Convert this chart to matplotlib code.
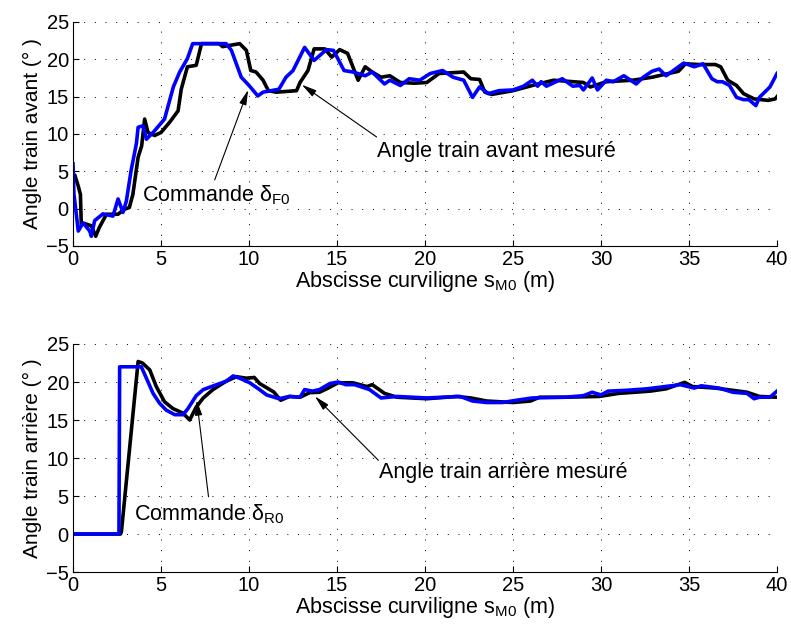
import matplotlib.pyplot as plt

plt.rcParams['font.family'] = ['Liberation Sans', 'DejaVu Sans']
plt.rcParams['mathtext.fontset'] = 'custom'
plt.rcParams['mathtext.rm'] = 'Liberation Sans'
plt.rcParams['mathtext.it'] = 'Liberation Sans:italic'

# --- top panel: front axle angle ---
front_cmd_s = [0, 0.05, 0.3, 0.57, 0.95, 1.04, 1.23, 1.7, 2.27, 2.56, 2.84, 3.03, 3.3, 3.6, 3.7,
               3.98, 4.17, 4.55, 5.2, 5.7, 6.06, 6.5, 6.8, 8.7, 9.0, 9.56, 10.0, 10.5, 10.8,
               11.7, 12.1, 12.5, 13.16, 13.7, 14.4, 14.8, 15.4, 15.9, 16.6, 17.0, 17.7, 18.0,
               18.6, 19.1, 19.7, 20.3, 21.0, 21.6, 22.2, 22.7, 23.1, 23.6, 24.2, 25.0, 25.6,
               26.1, 26.4, 26.6, 26.9, 27.8, 28.4, 28.8, 29.0, 29.5, 29.8, 30.3, 30.7, 31.3,
               32.0, 32.4, 32.9, 33.3, 33.7, 34.7, 35.3, 35.8, 36.3, 36.6, 36.9, 37.3, 37.7,
               38.1, 38.4, 38.8, 39.0, 39.6, 40.0]
front_cmd = [6.0, 2.0, -3.0, -1.9, -3.0, -3.7, -1.6, -0.7, -1.0, 1.3, -0.5, 1.0, 5.1, 8.7, 10.9,
             11.1, 9.3, 10.2, 12.0, 16.3, 18.3, 20.1, 22.1, 22.1, 21.2, 17.6, 16.5, 15.1, 15.6,
             16.0, 17.6, 18.5, 21.6, 19.85, 21.3, 21.2, 18.5, 18.3, 17.8, 18.3, 16.7, 17.2,
             16.5, 17.4, 17.2, 18.1, 18.5, 17.6, 17.2, 14.9, 16.3, 15.4, 15.8, 15.9, 16.4,
             17.2, 16.4, 17.0, 16.4, 17.4, 16.4, 16.5, 15.9, 17.5, 15.9, 17.2, 17.0, 17.8,
             16.7, 17.6, 18.4, 18.7, 17.8, 19.5, 19.0, 19.4, 17.4, 17.0, 17.0, 16.5, 14.9,
             14.6, 14.6, 13.8, 14.9, 16.3, 18.1]

front_meas_s = [0, 0.1, 0.3, 0.42, 0.47, 0.66, 1.04, 1.29, 1.5, 1.9, 2.56, 2.9, 3.2, 3.4, 3.7,
                3.9, 4.07, 4.26, 4.64, 5.0, 5.5, 5.97, 6.15, 6.5, 7.0, 7.3, 8.3, 8.5, 9.47,
                9.85, 10.1, 10.4, 10.8, 11.1, 11.55, 12.7, 12.9, 13.35, 13.7, 14.3, 14.7,
                15.15, 15.6, 15.9, 16.2, 16.6, 17.0, 17.5, 18.0, 18.6, 19.4, 20.1, 20.8, 22.2,
                22.6, 23.1, 23.4, 23.8, 25.0, 26.1, 27.3, 29.0, 29.4, 30.3, 31.8, 32.9, 34.4,
                34.8, 35.6, 36.5, 36.8, 37.2, 37.7, 38.1, 38.7, 39.5, 39.9, 40.0]
front_meas = [4.0, 4.5, 3.0, 1.9, -2.1, -2.0, -2.3, -3.7, -2.5, -0.75, -0.75, -0.1, 0.15, 1.9,
              6.9, 8.4, 12.0, 10.2, 9.8, 10.2, 11.6, 13.1, 16.0, 19.0, 19.2, 22.1, 22.1, 21.7,
              22.1, 21.2, 18.5, 18.3, 17.2, 15.8, 15.6, 15.8, 16.9, 18.5, 21.4, 21.4, 20.3,
              21.3, 20.8, 19.0, 17.2, 19.0, 18.3, 17.6, 17.8, 16.9, 16.8, 16.9, 18.1, 18.3,
              17.4, 17.3, 15.6, 15.3, 15.8, 16.5, 17.2, 16.9, 16.3, 17.0, 17.2, 17.6, 18.4,
              19.4, 19.3, 19.3, 19.0, 17.2, 16.5, 15.4, 14.7, 14.5, 14.7, 15.0]

# --- bottom panel: rear axle angle ---
rear_cmd_s = [0, 2.61, 2.65, 3.88, 4.17, 4.55, 4.92, 5.3, 5.78, 6.25, 6.53, 7.0, 7.4, 8.1, 8.7,
              9.1, 9.47, 10.04, 10.6, 11.0, 11.7, 12.3, 12.9, 13.16, 13.6, 14.0, 14.6, 15.06,
              15.5, 16.0, 16.85, 17.5, 18.4, 20.1, 22.0, 22.7, 23.5, 24.4, 25.2, 26.1, 28.0,
              29.0, 29.5, 30.0, 30.4, 31.4, 32.6, 33.3, 34.5, 35.3, 35.7, 36.7, 37.5, 38.3,
              38.7, 39.0, 39.6, 40.0]
rear_cmd = [0, 0, 22.0, 22.0, 20.5, 18.5, 17.2, 16.3, 15.7, 15.7, 16.5, 18.2, 19.0, 19.6, 20.1,
            20.8, 20.5, 19.9, 19.0, 18.3, 17.8, 18.1, 18.0, 19.0, 18.8, 19.0, 19.8, 20.0,
            19.65, 19.65, 19.0, 17.9, 18.1, 17.9, 18.1, 17.5, 17.3, 17.3, 17.6, 17.9, 18.0,
            18.2, 18.65, 18.3, 18.8, 18.9, 19.1, 19.3, 19.65, 19.2, 19.5, 19.2, 18.65, 18.5,
            17.8, 18.0, 18.0, 18.8]

rear_meas_s = [0, 2.7, 2.75, 3.7, 3.94, 4.36, 4.73, 5.2, 5.68, 6.25, 6.63, 7.0, 7.4, 7.95, 8.7,
               9.28, 9.85, 10.3, 10.6, 11.4, 11.8, 12.3, 12.9, 13.45, 14.0, 14.5, 15.06, 15.9,
               16.7, 17.0, 17.7, 18.4, 20.1, 21.8, 22.6, 23.5, 25.0, 26.0, 26.5, 28.0, 29.9,
               31.0, 32.8, 33.7, 34.75, 35.2, 36.5, 37.5, 38.3, 39.0, 40.0]
rear_meas = [0, 0, 0.3, 22.7, 22.5, 21.6, 19.4, 17.4, 16.5, 15.9, 15.0, 16.7, 17.9, 19.0, 20.1,
             20.7, 20.5, 20.6, 19.8, 18.7, 17.6, 18.1, 18.0, 18.6, 18.65, 19.2, 19.9, 19.9,
             19.4, 19.65, 18.5, 18.0, 17.8, 18.1, 17.9, 17.5, 17.3, 17.5, 18.0, 18.0, 18.1,
             18.5, 18.8, 19.1, 19.95, 19.4, 19.2, 18.9, 18.65, 18.1, 18.0]

fig = plt.figure(figsize=(7.91, 6.32), dpi=100)
ax1 = fig.add_axes([0.0923, 0.6108, 0.89, 0.3544])
ax2 = fig.add_axes([0.0923, 0.0949, 0.89, 0.3608])

panels = [
    (ax1, front_meas_s, front_meas, front_cmd_s, front_cmd, 'Angle train avant (° )',
     'Commande δ$_{\\mathrm{F0}}$', (3.9, 1.85), (9.95, 15.9), (8.05, 3.85),
     'Angle train avant mesuré', (17.3, 7.7), (13.0, 16.6), (17.25, 9.6)),
    (ax2, rear_meas_s, rear_meas, rear_cmd_s, rear_cmd, 'Angle train arrière (° )',
     'Commande δ$_{\\mathrm{R0}}$', (3.47, 2.6), (7.03, 17.6), (7.7, 4.9),
     'Angle train arrière mesuré', (17.4, 8.1), (13.75, 18.1), (17.35, 9.7)),
]

fs = 14.5
lfs = 15.5
for (ax, ms, mv, cs, cv, ylab, t1, p1, h1, s1, t2, p2, h2, s2) in panels:
    ax.plot(ms, mv, color='black', lw=2.6, solid_joinstyle='round')
    ax.plot(cs, cv, color='#0000ff', lw=2.6, solid_joinstyle='round')
    ax.set_xlim(0, 40)
    ax.set_ylim(-5, 25)
    ax.set_xticks(range(0, 41, 5))
    ax.set_yticks(range(-5, 26, 5))
    ax.set_yticklabels(['\u22125', '0', '5', '10', '15', '20', '25'])
    ax.grid(True, color='black', linestyle=(0, (1, 10)), linewidth=0.7)
    for sp in ['top', 'right']:
        ax.spines[sp].set_visible(False)
    ax.tick_params(direction='in', length=4, labelsize=fs, pad=3)
    ax.set_ylabel(ylab, fontsize=15, labelpad=3)
    ax.set_xlabel('Abscisse curviligne s$_{\\mathrm{M0}}$ (m)', fontsize=lfs, labelpad=0)
    arrow = dict(arrowstyle='-|>,head_length=0.9,head_width=0.22', color='black', lw=0.8,
                 shrinkA=0, shrinkB=0)
    ax.text(p1[0], p1[1], t1, fontsize=lfs, va='center', ha='left')
    ax.annotate('', xy=h1, xytext=s1, arrowprops=arrow)
    ax.text(p2[0], p2[1], t2, fontsize=lfs, va='center', ha='left')
    ax.annotate('', xy=h2, xytext=s2, arrowprops=arrow)

fig.savefig('out.png', dpi=100)
